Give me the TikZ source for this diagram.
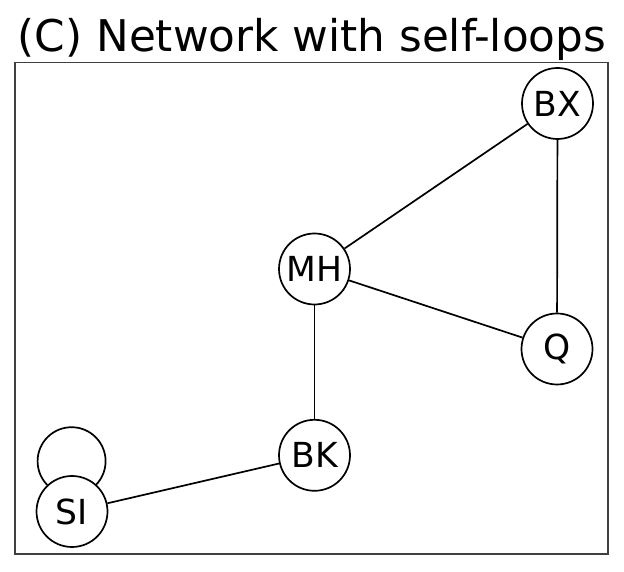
\documentclass[tikz,border=0pt]{standalone}
\usepackage{fontspec}
\setmainfont{DejaVu Sans}
\begin{document}
\begin{tikzpicture}[x=1pt,y=1pt,
    vertex/.style={draw,circle,line width=1.7pt,fill=white,inner sep=0pt,
      minimum size=71pt,font=\fontsize{34.5}{40}\selectfont},
    link/.style={line width=1.7pt}]
    \useasboundingbox (0,0) rectangle (624,572);

    \node[anchor=base,font=\fontsize{43.7}{50}\selectfont] (title) at (312,520) {(C) Network with self-loops};
    \draw[line width=1.3pt,black!75] (15,18) rectangle (608,509.5);

    % vertices
    \node[vertex] (BX) at (557.5,468.5) {BX};
    \node[vertex] (MH) at (314.5,303) {MH};
    \node[vertex] (Q) at (557,223) {Q};
    \node[vertex] (BK) at (314.5,116.7) {BK};
    \node[vertex] (SI) at (72,60.5) {SI};

    % edges
    \draw[link] (BX) -- (MH);
    \draw[link] (BX) -- (Q);
    \draw[link] (MH) -- (Q);
    \draw[link] (MH) -- (BK);
    \draw[link] (BK) -- (SI);
%    self-loop
    \draw[link] (SI.133.4) arc[start angle=224.2, end angle=-44.2, radius=34];

\end{tikzpicture}
\end{document}
